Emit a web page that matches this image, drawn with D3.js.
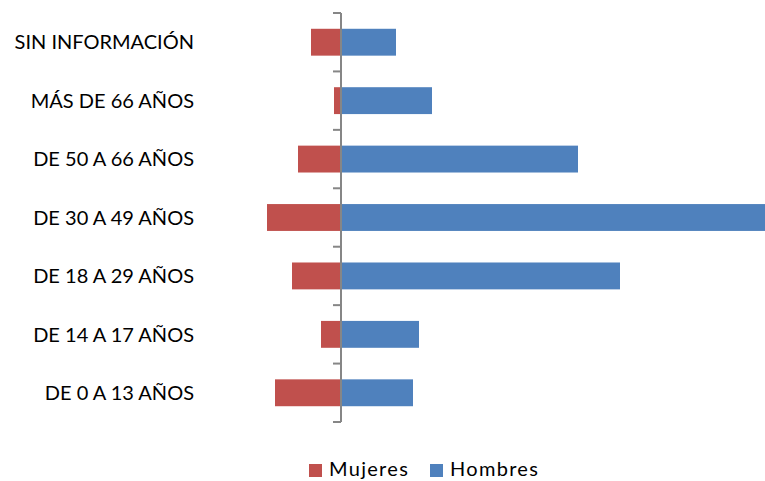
<!DOCTYPE html>
<html><head><meta charset="utf-8">
<script src="https://cdn.jsdelivr.net/npm/d3@7"></script>
<style>body{margin:0;background:#fff}svg{display:block}</style>
</head><body>
<svg id="c" width="765" height="481"></svg>
<script>
const categories = ["SIN INFORMACIÓN","MÁS DE 66 AÑOS","DE 50 A 66 AÑOS","DE 30 A 49 AÑOS","DE 18 A 29 AÑOS","DE 14 A 17 AÑOS","DE 0 A 13 AÑOS"];
const mujeres = [30, 7, 43, 74, 49, 20, 66];
const hombres = [55, 91, 237, 424, 279, 78, 72];
const seriesNames = ["Mujeres","Hombres"];
const colors = ["#C0504D","#4F81BD"];

const svg = d3.select("#c");
const font = "Lato, 'Open Sans', sans-serif";
const x = d3.scaleLinear().domain([-(341-250), 765-341]).range([250, 765]);
const y = d3.scaleBand().domain(categories).range([13, 422]).paddingInner(0.54).paddingOuter(0.27);

const g = svg.append("g");
categories.forEach((c,i)=>{
  g.append("rect").attr("x", x(-mujeres[i])).attr("y", y(c)).attr("width", x(0)-x(-mujeres[i])).attr("height", y.bandwidth()).attr("fill", colors[0]);
  g.append("rect").attr("x", x(0)).attr("y", y(c)).attr("width", x(hombres[i])-x(0)).attr("height", y.bandwidth()).attr("fill", colors[1]);
});

// axis
const ax = svg.append("g").attr("transform", `translate(${x(0)},0)`);
ax.append("line").attr("x1",0).attr("x2",0).attr("y1",13).attr("y2",422).attr("stroke","#868686").attr("stroke-width",2);
for (let k=0;k<=categories.length;k++){
  const yy = 13 + k*(409/categories.length);
  ax.append("line").attr("x1",-8).attr("x2",0).attr("y1",yy).attr("y2",yy).attr("stroke","#868686").attr("stroke-width",2);
}
categories.forEach(c=>{
  svg.append("text").attr("x",194).attr("y",y(c)+y.bandwidth()/2).attr("dy","0.36em")
    .attr("text-anchor","end").attr("font-family",font).attr("font-size",20).attr("fill","#000").text(c);
});

// legend
const lg = svg.append("g");
const lx = [309, 430];
seriesNames.forEach((s,i)=>{
  lg.append("rect").attr("x",lx[i]).attr("y",464).attr("width",13).attr("height",13).attr("fill",colors[i]);
  lg.append("text").attr("x",lx[i]+20).attr("y",476).attr("font-family",font).attr("font-size",20)
    .attr("letter-spacing",1.3).attr("fill","#000").text(s);
});
</script>
</body></html>
